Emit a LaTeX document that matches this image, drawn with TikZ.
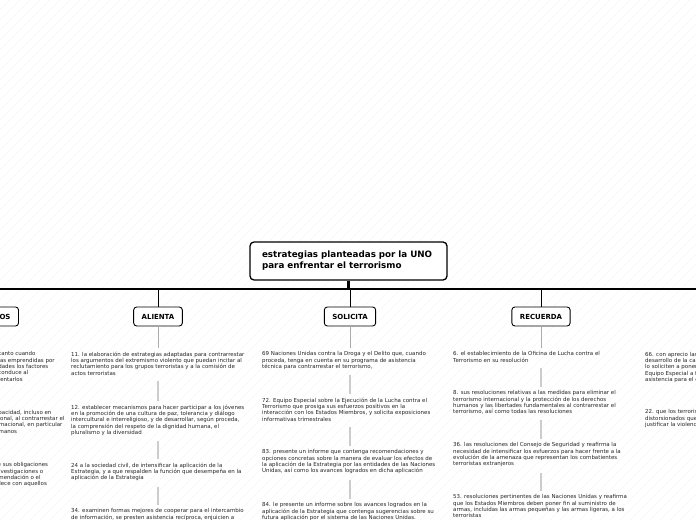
\documentclass[tikz,border=0pt]{standalone}
\usepackage{fontspec}
\setmainfont{DejaVu Sans}
\usetikzlibrary{calc}
\tikzset{
 rootbox/.style={draw, line width=1.3bp, rounded corners=4bp, fill=white, align=left, text width=173bp, inner xsep=12bp, inner ysep=0bp, minimum height=38bp, font=\fontsize{8.8}{11}\selectfont\bfseries},
 hdrbox/.style={draw, line width=0.9bp, rounded corners=3bp, fill=white, inner xsep=8bp, inner ysep=0bp, minimum height=19bp, font=\fontsize{7}{8}\selectfont\bfseries},
 txt/.style={anchor=north west, inner sep=0bp, align=left, font=\fontsize{5.5}{6.4}\selectfont, text=black!85},
 barline/.style={line width=2.2bp, black},
 branch/.style={line width=0.8bp, black},
 stem/.style={line width=0.6bp, gray!65},
 link/.style={line width=1.8bp, gray!40, shorten <=5.5bp, shorten >=3.5bp},
 hatch/.style={line width=0.5bp, gray!7},
}
\begin{document}
\begin{tikzpicture}[x=1bp,y=-1bp]
\useasboundingbox (0,0) rectangle (696,520);
\clip (0,0) rectangle (696,520);
\fill[white] (0,0) rectangle (696,520);
\foreach \k in {-520,-510,...,700} {\draw[hatch] (\k,520) -- (\k+520,0);}

% main bar
\coordinate (barL) at (-200,289);
\coordinate (barR) at (900,289);
\draw[barline] (barL) -- (barR);

% root
\node[rootbox] (root) at (348.5,261) {estrategias planteadas por la UNO\\para enfrentar el terrorismo};
\draw[barline] (root.south) -- (root.south |- barL);

% headers
\node[hdrbox] (h0) at (-33,316.5) {INSTA A LOS ESTADOS};
\node[hdrbox] (h1) at (158,316.5) {ALIENTA};
\node[hdrbox] (h2) at (350,316.5) {SOLICITA};
\node[hdrbox] (h3) at (541,316.5) {RECUERDA};
\foreach \h in {h0,h1,h2,h3} {\draw[branch] (\h.north |- barL) -- (\h.north);}

% left column (clipped)
\node[txt] (a1) at (-120,351.5) {1. a los Estados Miembros, a que procuren tanto cuando\\ejecuten sus planes nacionales, las iniciativas emprendidas por\\otros Estados Partes y aborden como prioridades los factores\\que puede crear un entorno favorable que conduce al\\extremismo violento y terrorismo, para enfrentarlos};
\node[txt] (a2) at (-120,409.5) {2. a los Estados a que refuercen más su capacidad,  incluso en\\materia de cooperación internacional y regional, al contrarrestar el\\terrorismo tanto a nivel nacional como internacional, en particular\\en lo relativo al respeto de los derechos humanos};
\node[txt] (a3) at (-120,462.5) {3. a los Estados a que cumplan plenamente sus obligaciones\\internacionales, y a que lleven a cabo las investigaciones o\\procesos judiciales que se inicien a su recomendación o el\\intercambio de la información que se establece con aquellos};
\draw[stem] (h0.south) -- ($(a1.north -| h0)+(0,-4)$);
\draw[link] (a1.south -| h0) -- (a2.north -| h0);
\draw[link] (a2.south -| h0) -- (a3.north -| h0);

% ALIENTA
\node[txt] (b1) at (71,351.5) {11. la elaboración de estrategias adaptadas para contrarrestar\\los argumentos del extremismo violento que puedan incitar al\\reclutamiento para los grupos terroristas y a la comisión de\\actos terroristas};
\node[txt] (b2) at (71,404.5) {12. establecer mecanismos para hacer participar a los jóvenes\\en la promoción de una cultura de paz, tolerancia y diálogo\\intercultural e interreligioso, y de desarrollar, según proceda,\\la comprensión del respeto de la dignidad humana, el\\pluralismo y la diversidad};
\node[txt] (b3) at (71,462.5) {24 a la sociedad civil, de intensificar la aplicación de la\\Estrategia, y a que respalden la función que desempeña en la\\aplicación de la Estrategia};
\node[txt] (b4) at (71,508.5) {34. examinen formas mejores de cooperar para el intercambio\\de información, se presten asistencia recíproca, enjuicien a};
\draw[stem] (h1.south) -- ($(b1.north -| h1)+(0,-4)$);
\draw[link] (b1.south -| h1) -- (b2.north -| h1);
\draw[link] (b2.south -| h1) -- (b3.north -| h1);
\draw[link] (b3.south -| h1) -- (b4.north -| h1);

% SOLICITA
\node[txt] (c1) at (262,351.5) {69 Naciones Unidas contra la Droga y el Delito que, cuando\\proceda, tenga en cuenta en su programa de asistencia\\técnica para contrarrestar el terrorismo,};
\node[txt] (c2) at (262,397.5) {72. Equipo Especial sobre la Ejecución de la Lucha contra el\\Terrorismo  que prosiga sus esfuerzos positivos en la\\interacción con los Estados Miembros, y solicita  exposiciones\\informativas trimestrales};
\node[txt] (c3) at (262,449.5) {83. presente un informe que contenga recomendaciones y\\opciones concretas sobre la manera de evaluar los efectos de\\la aplicación de la Estrategia por las entidades de las Naciones\\Unidas, así como los avances logrados en dicha aplicación};
\node[txt] (c4) at (262,502.5) {84. le presente un informe sobre los avances logrados en la\\aplicación de la Estrategia que contenga sugerencias sobre su\\futura aplicación por el sistema de las Naciones Unidas.};
\draw[stem] (h2.south) -- ($(c1.north -| h2)+(0,-4)$);
\draw[link] (c1.south -| h2) -- (c2.north -| h2);
\draw[link] (c2.south -| h2) -- (c3.north -| h2);
\draw[link] (c3.south -| h2) -- (c4.north -| h2);

% RECUERDA
\node[txt] (d1) at (453,351.5) {6. el establecimiento de la Oficina de Lucha contra el\\Terrorismo en su resolución};
\node[txt] (d2) at (453,390.5) {8. sus resoluciones relativas a las medidas para eliminar el\\terrorismo internacional y la protección de los derechos\\humanos y las libertades fundamentales al contrarrestar el\\terrorismo, así como todas las resoluciones};
\node[txt] (d3) at (453,442.5) {36. las resoluciones del Consejo de Seguridad  y reafirma la\\necesidad de intensificar los esfuerzos para hacer frente a la\\evolución de la amenaza que representan los combatientes\\terroristas extranjeros};
\node[txt] (d4) at (453,494.5) {53. resoluciones pertinentes de las Naciones Unidas y reafirma\\que los Estados Miembros deben poner fin al suministro de\\armas, incluidas las armas pequeñas y las armas ligeras, a los\\terroristas};
\draw[stem] (h3.south) -- ($(d1.north -| h3)+(0,-4)$);
\draw[link] (d1.south -| h3) -- (d2.north -| h3);
\draw[link] (d2.south -| h3) -- (d3.north -| h3);
\draw[link] (d3.south -| h3) -- (d4.north -| h3);

% right column (clipped)
\node[txt] (e1) at (645,351.5) {66. con aprecio las actividades de creación de capacidad y\\desarrollo de la capacidad, e invita a los Estados que\\lo soliciten a ponerse en contacto con la Oficina y el\\Equipo Especial a fin de obtener\\asistencia para el desarrollo de su capacidad};
\node[txt] (e2) at (645,409.5) {22. que los terroristas pueden elaborar argumentos\\distorsionados que se basan en una interpretación errónea para\\justificar la violencia};
\end{tikzpicture}
\end{document}
